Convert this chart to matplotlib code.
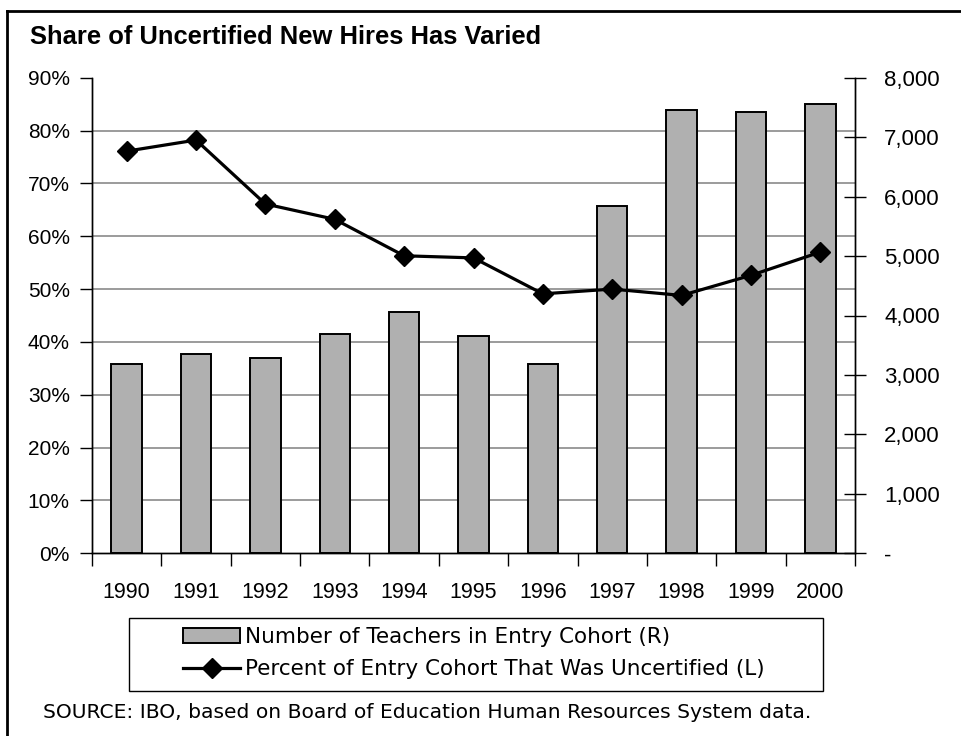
import matplotlib
matplotlib.use("Agg")
import matplotlib.pyplot as plt
from matplotlib.lines import Line2D
from matplotlib.patches import Patch, Rectangle
from matplotlib.ticker import FixedLocator, FuncFormatter

# ---------------- data ----------------
years = ["1990", "1991", "1992", "1993", "1994", "1995",
         "1996", "1997", "1998", "1999", "2000"]
teachers = [3190, 3360, 3290, 3690, 4055, 3660, 3190, 5840, 7460, 7420, 7555]
pct_uncertified = [76.1, 78.2, 66.1, 63.2, 56.3, 55.9, 49.1, 50.0, 48.8, 52.6, 57.0]

pct_ticks = [0, 10, 20, 30, 40, 50, 60, 70, 80, 90]
count_ticks = [0, 1000, 2000, 3000, 4000, 5000, 6000, 7000, 8000]

title = "Share of Uncertified New Hires Has Varied"
bar_label = "Number of Teachers in Entry Cohort (R)"
line_label = "Percent of Entry Cohort That Was Uncertified (L)"
source = "SOURCE: IBO, based on Board of Education Human Resources System data."

# ---------------- figure ----------------
W, H = 962, 736
fig = plt.figure(figsize=(W / 100, H / 100), dpi=100)

def fx(px):
    return px / W

def fy(py):
    return 1 - py / H

L, R, T, B = 92, 855, 77.7, 553.3
ax = fig.add_axes([fx(L), fy(B), fx(R - L), (B - T) / H])   # bars (count), ticks on right
ax2 = ax.twinx()                                              # line (percent), ticks on left

x = list(range(len(years)))
bar_color = "#b0b0b0"

ax.bar(x, teachers, width=0.44, color=bar_color, edgecolor="black",
       linewidth=1.4, zorder=3)
ax.set_xlim(-0.5, len(years) - 0.5)
ax.set_ylim(count_ticks[0], count_ticks[-1])

ax2.set_ylim(pct_ticks[0], pct_ticks[-1])
ax2.plot(x, pct_uncertified, color="black", linewidth=2.3, marker="D",
         markersize=10, markerfacecolor="black", markeredgecolor="black", zorder=4)

# Put the percent axis ticks on the left, counts on the right
ax.yaxis.tick_right()
ax.yaxis.set_label_position("right")
ax2.yaxis.tick_left()
ax2.yaxis.set_label_position("left")

# count axis (right)
ax.yaxis.set_major_locator(FixedLocator(count_ticks))
ax.yaxis.set_major_formatter(FuncFormatter(lambda v, p: "-" if v == 0 else f"{int(v):,}"))
ax.tick_params(axis="y", which="major", direction="inout", length=16, width=1,
               pad=13, labelsize=16, colors="black")
for lbl in ax.get_yticklabels():
    lbl.set_fontfamily("Liberation Sans")

# gridlines behind bars, at the percent ticks (converted through the two scales)
scale = (count_ticks[-1] - count_ticks[0]) / (pct_ticks[-1] - pct_ticks[0])
ax.yaxis.set_minor_locator(FixedLocator([p * scale for p in pct_ticks]))
ax.tick_params(axis="y", which="minor", length=0)
ax.grid(axis="y", which="minor", color="#808080", linewidth=1.1, zorder=0)
ax.set_axisbelow(True)

# percent axis (left)
ax2.yaxis.set_major_locator(FixedLocator(pct_ticks))
ax2.yaxis.set_major_formatter(FuncFormatter(lambda v, p: f"{int(v)}%"))
ax2.tick_params(axis="y", direction="out", length=9, width=1, pad=7,
                labelsize=15, colors="black")
for lbl in ax2.get_yticklabels():
    lbl.set_fontfamily("Liberation Sans")

# x axis: ticks between categories
ax.set_xticks([i - 0.5 for i in range(len(years) + 1)])
ax.set_xticklabels([])
ax.set_xticks(x, minor=True)
ax.set_xticklabels(years, minor=True)
ax.tick_params(axis="x", which="major", direction="out", length=9, width=1)
ax.tick_params(axis="x", which="minor", length=0, pad=21, labelsize=15.5)
for lbl in ax.get_xticklabels(minor=True):
    lbl.set_fontfamily("Liberation Sans")
ax2.tick_params(axis="x", length=0)

for a in (ax, ax2):
    a.spines["top"].set_visible(False)
    for s in ("left", "right", "bottom"):
        a.spines[s].set_color("black")
        a.spines[s].set_linewidth(1)

ax2.set_zorder(ax.get_zorder() + 1)
ax2.patch.set_visible(False)

# title
fig.text(fx(30), fy(37), title, fontsize=18.4, fontweight="bold",
         family="Liberation Sans", ha="left", va="center")

# legend (custom frame)
fig.add_artist(Rectangle((fx(129), fy(691)), fx(823 - 129), (691 - 618) / H,
                         transform=fig.transFigure, facecolor="white",
                         edgecolor="black", linewidth=1))
handles = [Patch(facecolor=bar_color, edgecolor="black", linewidth=1.4),
           Line2D([0], [0], color="black", linewidth=2.3, marker="D",
                  markersize=10, markerfacecolor="black")]
leg = fig.legend(handles, [bar_label, line_label], loc="upper left",
                 bbox_to_anchor=(fx(183), fy(627)), frameon=False,
                 prop={"family": "DejaVu Sans", "size": 15.5},
                 handlelength=2.65, handleheight=0.75, handletextpad=0.22,
                 labelspacing=0.58, borderpad=0, borderaxespad=0)

# source
fig.text(fx(43), fy(713), source, fontsize=14.6, family="DejaVu Sans",
         ha="left", va="center")

# outer frame (left and top edges visible)
fig.add_artist(Line2D([fx(7), fx(7)], [fy(11), 0], transform=fig.transFigure,
                      color="black", linewidth=2))
fig.add_artist(Line2D([fx(7), 1], [fy(11), fy(11)], transform=fig.transFigure,
                      color="black", linewidth=2))

fig.savefig("out.png", dpi=100)
